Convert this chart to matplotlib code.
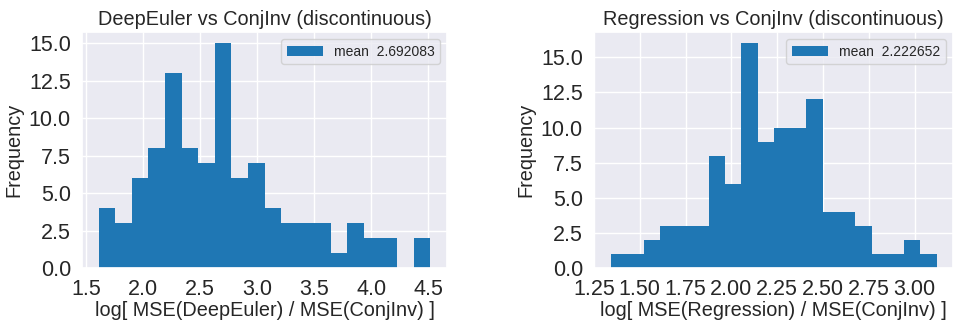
import numpy as np
import matplotlib
matplotlib.use("Agg")
import matplotlib.pyplot as plt
import seaborn as sns

# bin counts (20 bins each)
deep_counts = [4, 3, 6, 8, 13, 8, 7, 15, 6, 7, 4, 3, 3, 3, 1, 3, 2, 2, 0, 2]
deep_lo, deep_hi = 1.608, 4.52
deep_mean = 2.692083

reg_counts = [1, 1, 2, 3, 3, 3, 8, 6, 16, 9, 10, 10, 12, 4, 4, 3, 1, 1, 2, 1]
reg_lo, reg_hi = 1.343, 3.121
reg_mean = 2.222652

sns.set_theme(style="darkgrid")
plt.rcParams['font.family'] = ['Liberation Sans', 'DejaVu Sans']

fig = plt.figure(figsize=(9.58, 3.24), dpi=100)
ax1 = fig.add_axes([82 / 958, 56 / 324, 365 / 958, 236 / 324])
ax2 = fig.add_axes([594 / 958, 56 / 324, 359 / 958, 236 / 324])

panels = [
    (ax1, deep_counts, deep_lo, deep_hi, deep_mean, "DeepEuler", np.arange(1.5, 4.51, 0.5), "%.1f"),
    (ax2, reg_counts, reg_lo, reg_hi, reg_mean, "Regression", np.arange(1.25, 3.01, 0.25), "%.2f"),
]
for ax, counts, lo, hi, mean, name, xt, fmt in panels:
    edges = np.linspace(lo, hi, len(counts) + 1)
    ax.hist(edges[:-1], bins=edges, weights=counts, color="#1f77b4",
            linewidth=0, label="mean  %f" % mean)
    ax.set_title("%s vs ConjInv (discontinuous)" % name, fontsize=14.3, pad=5)
    ax.set_xlabel("log[ MSE(%s) / MSE(ConjInv) ]" % name, fontsize=14.3, labelpad=1)
    ax.set_ylabel("Frequency", fontsize=14.3, labelpad=4)
    ax.set_xticks(xt)
    ax.set_xticklabels([fmt % v for v in xt])
    ax.set_yticks(np.arange(0, 15.1, 2.5))
    ax.tick_params(labelsize=15.5, pad=2)
    ax.legend(loc="upper right", fontsize=10, handlelength=2.6)

fig.savefig("out.png", dpi=100)
